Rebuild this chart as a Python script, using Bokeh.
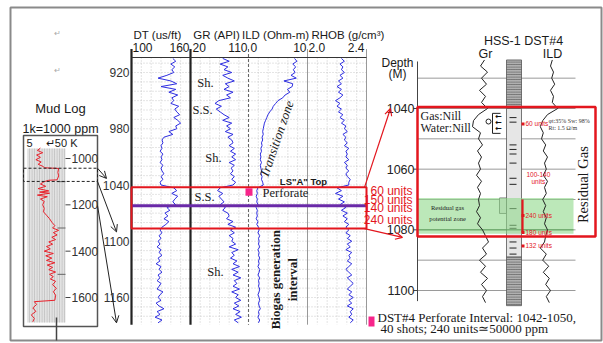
import math
from bokeh.plotting import figure
from bokeh.models import Range1d, Arrow, OpenHead
from bokeh.core.properties import value
from bokeh.embed import file_html
from bokeh.resources import INLINE

# ---------------- data ----------------
MAIN_TICKS = [920, 980, 1040, 1100, 1160]
main_depth = list(range(905, 1188, 3))  # sample depths (m)
DT = [142, 145, 140, 144, 141, 143, 136, 127, 140, 146, 130, 145, 138, 147, 141,
      143, 140, 148, 144, 146, 149, 143, 147, 150, 145, 146, 138, 142, 133, 131,
      132, 130, 131, 129, 132, 130, 131, 129, 132, 130, 131, 133, 130, 132, 129,
      130,
      143, 146, 141, 147, 144, 142, 145, 136, 139, 134, 137, 133, 138, 135, 131,
      129, 131, 128, 130, 127, 129, 126, 130, 128, 131, 127, 129, 125, 130, 128,
      131, 127, 129, 126, 130, 128, 126, 132, 129, 127, 130, 125, 128, 133, 126,
      129, 124, 131, 127]
GR = [70, 80, 66, 78, 72, 84, 70, 78, 88, 74, 80, 72, 86, 76, 82,
      64, 58, 68, 60, 66, 72, 80, 70, 84, 76, 82, 74, 86, 78, 84,
      86, 80, 88, 82, 90, 84, 90, 80, 88, 83, 86, 82, 88, 84, 90,
      86,
      66, 62, 70, 64, 68, 72, 66, 74, 70, 78, 80, 76, 86, 78, 90,
      82, 88, 80, 86, 84, 90, 80, 94, 84, 88, 82, 92, 86, 96, 84,
      94, 86, 98, 88, 92, 86, 96, 84, 94, 90, 98, 88, 95, 86, 97,
      90, 99, 88, 94]
ILD = [7.8, 8.2, 7.5, 8.0, 7.6, 7.9, 7.2, 8.1, 6.0, 7.5, 7.4, 6.6, 7.0, 6.2, 5.8,
       5.0, 4.6, 4.2, 4.0, 3.6, 3.3, 3.1, 2.9, 2.7, 2.6, 2.5, 2.4, 2.5, 2.3, 2.4,
       2.2, 2.3, 2.1, 2.2, 2.0, 2.1, 2.0, 2.2, 2.0, 2.1, 2.2, 2.1, 2.3, 2.2, 2.4,
       2.5,
       1.6, 1.4, 1.5, 1.3, 1.5, 1.4, 1.6, 1.3, 1.5, 1.4, 1.5, 1.3, 1.6, 1.4, 1.7,
       1.8, 1.6, 1.9, 1.7, 1.8, 1.7, 1.9, 1.6, 1.8, 1.7, 1.9, 1.7, 1.8, 1.6, 1.9,
       1.8, 1.6, 1.9, 1.7, 1.8, 1.7, 1.9, 1.8, 1.6, 1.8, 1.9, 1.7, 1.8, 2.0, 1.7,
       1.8, 1.6, 1.9, 1.7]
RHOB = [2.23, 2.25, 2.22, 2.24, 2.23, 2.25, 2.22, 2.24, 2.21, 2.23, 2.20, 2.23, 2.21, 2.24, 2.22,
        2.19, 2.22, 2.20, 2.23, 2.21, 2.24, 2.22, 2.25, 2.23, 2.26, 2.25, 2.27, 2.24, 2.26, 2.25,
        2.27, 2.25, 2.28, 2.26, 2.27, 2.26, 2.28, 2.25, 2.27, 2.26, 2.28, 2.26, 2.27, 2.29, 2.28,
        2.28,
        2.20, 2.23, 2.19, 2.24, 2.21, 2.25, 2.22, 2.26, 2.23, 2.27, 2.24, 2.27, 2.25, 2.28, 2.26,
        2.28, 2.26, 2.29, 2.27, 2.30, 2.27, 2.29, 2.26, 2.30, 2.28, 2.29, 2.27, 2.30, 2.28, 2.26,
        2.28, 2.30, 2.27, 2.29, 2.31, 2.29, 2.27, 2.30, 2.28, 2.31, 2.28, 2.30, 2.27, 2.31, 2.29,
        2.30, 2.28, 2.31, 2.29]

MUD_TICKS = [1000, 1200, 1400, 1600]
mud_depth = [955, 965, 975, 985, 995, 1005, 1015, 1025, 1035, 1040, 1043, 1060, 1075, 1092, 1094,
             1100, 1110, 1120, 1130, 1140, 1145, 1150, 1158, 1165, 1175, 1185, 1200, 1215, 1230, 1245,
             1260, 1275, 1290, 1300, 1310, 1320, 1330, 1340, 1350, 1360, 1370, 1380, 1390, 1400, 1410,
             1420, 1430, 1440, 1450, 1460, 1470, 1480, 1490, 1500, 1510, 1520, 1530, 1545, 1560, 1575,
             1590, 1612, 1618, 1630, 1645, 1660, 1675, 1690, 1705]
mud_gas = [17, 13, 20, 12, 17, 11, 18, 14, 21, 22, 41, 40, 41, 39, 28,
           22, 17, 24, 14, 28, 16, 29, 13, 26, 17, 22, 20, 22, 21, 25,
           29, 32, 36, 33, 41, 34, 39, 32, 37, 28, 33, 25, 30, 22, 34,
           24, 32, 25, 36, 26, 33, 28, 37, 29, 34, 30, 37, 33, 38, 34,
           37, 36, 9, 12, 7, 11, 5, 9, 7]

RIGHT_TICKS = [1040, 1060, 1080, 1100]
right_depth = list(range(1024, 1106, 2))
GR_R = [71, 65, 75.5, 66.5, 74, 63.5, 72.5, 66.5, 75.5, 62, 54.5, 53, 65, 62, 68,
        60.5, 66.5, 62, 65, 59, 66.5, 60.5, 65, 62, 63.5, 59, 65, 60.5, 68, 72.5,
        77, 68, 74, 63.5, 72.5, 65, 75.5, 66.5, 74, 68, 72.5]
ILD_R = [5.3, 5.0, 5.5, 5.2, 5.7, 5.0, 5.5, 5.3, 6.2, 4.5, 3.7, 3.3, 3.8, 3.5, 4.2,
         3.8, 4.5, 4.0, 4.3, 3.8, 4.5, 4.0, 4.3, 3.7, 4.2, 3.8, 4.3, 4.0, 4.5, 4.2,
         4.0, 3.3, 4.3, 3.7, 4.7, 3.8, 4.8, 4.2, 5.0, 4.3, 4.8]

UNIT_LABELS = ["60 units", "150 units", "140 units", "240 units"]
UNIT_DEPTHS = [1045.9, 1055.5, 1065.0, 1076.8]
PERF = (1042, 1050)
MAIN_BOX = (1042.5, 1086.5)
LS_A_TOP = 1062
RIGHT_BOX = (1039.5, 1082.2)
GREEN_ZONE = (1069.5, 1081.3)
LITHO = [(1024, 1040, "sh"), (1040, 1089, "ss"), (1089, 1105, "sh")]
LITHO_DASH = [1043, 1044.5, 1052, 1053.5, 1055, 1058, 1063, 1065, 1073, 1078.5, 1079.5, 1084, 1086, 1088]
RIGHT_NOTES = [("60 units", 1045.1), ("240 units", 1075.3), ("180 units", 1080.9), ("132 units", 1085.3)]

# ---------------- layout ----------------
W, H = 603, 343
SANS = "Liberation Sans"
SERIF = "Liberation Serif"
RED = "#e3161e"
BLUE = "#2d2de0"
PINK = "#f7258a"
TXT = "#1a1a1a"

p = figure(width=W, height=H, x_range=Range1d(0, W), y_range=Range1d(H, 0),
           output_backend="svg", toolbar_location=None, min_border=0,
           x_axis_location=None, y_axis_location=None)
p.xgrid.visible = False
p.ygrid.visible = False
p.outline_line_color = None
p.background_fill_color = "white"
p.border_fill_color = "white"


def sub(xs, xt, ys, yt):
    return p.subplot(x_source=Range1d(*xs), y_source=Range1d(*ys),
                     x_target=Range1d(*xt), y_target=Range1d(*yt))


def T(g, x, y, s, size, font=SANS, color=TXT, align="center", baseline="middle", angle=0.0, style="normal"):
    g.text(x=[x], y=[y], text=[s], angle=angle, text_font=value(font),
           text_font_size=f"{size}px", text_color=color, text_align=align,
           text_baseline=baseline, text_font_style=style)


# outer frame
p.quad(left=[10], right=[601], top=[7], bottom=[340], fill_color=None, line_color="#8a8a8a", line_width=2)
T(p, 57, 33, "\u21b5", 8, font="DejaVu Sans", color="#aaaaaa")
T(p, 57, 70, "\u21b5", 8, font="DejaVu Sans", color="#aaaaaa")

# ---------------- main log ----------------
MY_S, MY_T = (920, 1160), (72, 297)
D_TOP, D_BOT = 904, 1189
tracks = {"DT": (131, 190), "GR": (190, 248), "ILD": (248, 307), "RHOB": (307, 366)}
main = sub((0, W), (0, W), MY_S, MY_T)
dt_g = sub((100, 160), tracks["DT"], MY_S, MY_T)
gr_g = sub((20, 110), tracks["GR"], MY_S, MY_T)
ild_g = sub((0, 10), tracks["ILD"], MY_S, MY_T)
rhob_g = sub((2.0, 2.4), tracks["RHOB"], MY_S, MY_T)

# dotted grid
hd = list(range(910, 1190, 10))
main.segment(x0=[131] * len(hd), y0=hd, x1=[366] * len(hd), y1=hd,
             line_color="#bdbdbd", line_width=0.8, line_dash="1 2")
vx = []
for (a, b) in tracks.values():
    vx += [a + k * (b - a) / 6 for k in range(1, 6)]
main.segment(x0=vx, y0=[D_TOP] * len(vx), x1=vx, y1=[D_BOT] * len(vx),
             line_color="#bdbdbd", line_width=0.8, line_dash="1 2")

# track borders
main.segment(x0=[131, 190], y0=[895, 895], x1=[131, 190], y1=[D_BOT, D_BOT], line_color="#222", line_width=2.2)
main.segment(x0=[248], y0=[895], x1=[248], y1=[D_BOT], line_color="#666", line_width=1.1, line_dash="3 2")
main.segment(x0=[307, 366], y0=[895, 895], x1=[307, 366], y1=[D_BOT, D_BOT], line_color="#999", line_width=1)
main.segment(x0=[131], y0=[D_TOP], x1=[366], y1=[D_TOP], line_color="#333", line_width=1.2)

# curves
dt_g.line(x=DT, y=main_depth, line_color=BLUE, line_width=1)
gr_g.line(x=GR, y=main_depth, line_color=BLUE, line_width=1)
ild_g.line(x=ILD, y=main_depth, line_color=BLUE, line_width=1)
rhob_g.line(x=RHOB, y=main_depth, line_color=BLUE, line_width=1)

# headers
T(p, 157, 34, "DT (us/ft)", 11.5)
T(p, 216, 34, "GR (API)", 11.5)
T(p, 275, 34, "ILD (Ohm-m)", 11.5)
T(p, 311, 34, "RHOB (g/cm\u00b3)", 11.5, align="left")
for x, s, al in [(132, "100", "left"), (189, "160", "right"), (192, "20", "left"), (247, "110", "right"),
                 (250, "0", "left"), (306, "10", "right"), (308, "2.0", "left"), (364, "2.4", "right")]:
    T(p, x, 47, s, 12, align=al)

main.text(x=[129] * len(MAIN_TICKS), y=MAIN_TICKS, text=[str(t) for t in MAIN_TICKS],
          text_font=value(SANS), text_font_size="12px", text_color="#333", text_align="right",
          text_baseline="middle")

# lithology notes
for x, d, s in [(205, 931.7, "Sh."), (202, 959.5, "S.S."), (213, 1011.7, "Sh."), (204, 1052.3, "S.S."), (215, 1132.3, "Sh.")]:
    T(main, x, d, s, 12.5, font=SERIF)
T(main, 276, 991, "Transition zone", 13, font=SERIF, style="italic", angle=1.24)
T(main, 275, 1141, "Biogas generation", 13, font=SERIF, style="bold", angle=math.pi / 2)
T(main, 292, 1141, "interval", 13, font=SERIF, style="bold", angle=math.pi / 2)
T(main, 303, 1036.3, "LS\"A\" Top", 9.5, style="bold")
T(main, 285, 1048, "Perforate", 12.5, font=SERIF)

# red box, LS A top line, perforation mark
main.segment(x0=[131], y0=[LS_A_TOP], x1=[366], y1=[LS_A_TOP], line_color="#6a2aa8", line_width=3)
main.quad(left=[131], right=[366], top=[MAIN_BOX[0]], bottom=[MAIN_BOX[1]], fill_color=None,
          line_color=RED, line_width=2)
main.quad(left=[245], right=[252], top=[PERF[0] + 1.5], bottom=[PERF[1] + 1.5], fill_color=PINK, line_color=None)
main.text(x=[412] * 4, y=UNIT_DEPTHS, text=UNIT_LABELS, text_font=value(SANS), text_font_size="12px",
          text_color=RED, text_align="right", text_baseline="middle")

# ---------------- mud log ----------------
MUD_S, MUD_T = (1000, 1600), (158, 297)
mud = sub((0, W), (0, W), MUD_S, MUD_T)
mud_g = sub((0, 50), (27, 65), MUD_S, MUD_T)
T(p, 60, 108, "Mud Log", 13)
T(p, 60, 128, "1k=1000 ppm", 12.5)
p.quad(left=[23], right=[97], top=[135], bottom=[326], fill_color=None, line_color="#555", line_width=1.5)
mud.quad(left=[27], right=[65], top=[957], bottom=[1708], fill_color="#e2e2e2", line_color=None,
         hatch_pattern="vertical_line", hatch_color="#b4b4b4", hatch_scale=2.5, hatch_weight=0.7)
T(p, 26, 142, "5", 11, align="left")
T(p, 77, 142, "\u21b550 K", 11, align="right")
mud.segment(x0=[65] * 4, y0=MUD_TICKS, x1=[70] * 4, y1=MUD_TICKS, line_color="#444", line_width=1)
mud.segment(x0=[57] * 3, y0=[1100, 1300, 1500], x1=[65] * 3, y1=[1100, 1300, 1500], line_color="#666", line_width=1)
mud.text(x=[71] * 4, y=MUD_TICKS, text=[str(t) for t in MUD_TICKS], text_font=value(SANS),
         text_font_size="12px", text_color="#333", text_align="left", text_baseline="middle")
mud_g.line(x=mud_gas, y=mud_depth, line_color="#e8202a", line_width=1)
mud.quad(left=[23], right=[97], top=[1042], bottom=[1099], fill_color=None, line_color="#222",
         line_width=1, line_dash="3 2")
p.segment(x0=[56], y0=[317], x1=[56], y1=[340], line_color="#444", line_width=1.5)


def main_y(d):
    return MY_T[0] + (d - MY_S[0]) * (MY_T[1] - MY_T[0]) / (MY_S[1] - MY_S[0])


def mud_y(d):
    return MUD_T[0] + (d - MUD_S[0]) * (MUD_T[1] - MUD_T[0]) / (MUD_S[1] - MUD_S[0])


RY_S, RY_T = (1040, 1100), (108, 290)


def right_y(d):
    return RY_T[0] + (d - RY_S[0]) * (RY_T[1] - RY_T[0]) / (RY_S[1] - RY_S[0])


for (md, dd, xe) in [(1042, 1033, 106), (1099, 1090, 116), (1203, 1187, 116)]:
    p.add_layout(Arrow(end=OpenHead(size=7, line_color="#222", line_width=1), x_start=97, y_start=mud_y(md),
                       x_end=xe, y_end=main_y(dd), line_color="#222", line_width=1))

# red connectors
p.add_layout(Arrow(end=OpenHead(size=7, line_color=RED, line_width=1.2), x_start=364, y_start=main_y(MAIN_BOX[0]),
                   x_end=390, y_end=right_y(1040), line_color=RED, line_width=1.2))
p.add_layout(Arrow(end=OpenHead(size=7, line_color=RED, line_width=1.2), x_start=364, y_start=main_y(MAIN_BOX[1]),
                   x_end=402, y_end=right_y(1082.5), line_color=RED, line_width=1.2))

# ---------------- right panel ----------------
rp = sub((0, W), (0, W), RY_S, RY_T)
gr_r = sub((20, 110), (450, 510), RY_S, RY_T)
ild_r = sub((0, 10), (520, 580), RY_S, RY_T)

T(p, 523, 40, "HSS-1 DST#4", 12.5)
T(p, 485, 53, "Gr", 12.5)
T(p, 552, 53, "ILD", 12.5)
T(p, 397, 62, "Depth", 12)
T(p, 397, 73, "(M)", 12)

gl = list(range(1030, 1101, 10))
rp.segment(x0=[417] * len(gl), y0=gl, x1=[575] * len(gl), y1=gl, line_color="#9a9a9a", line_width=1)
rp.segment(x0=[417], y0=[1024.5], x1=[417], y1=[1103.5], line_color="#444", line_width=1)
rp.segment(x0=[413] * 4, y0=RIGHT_TICKS, x1=[417] * 4, y1=RIGHT_TICKS, line_color="#444", line_width=1)
rp.text(x=[414] * 4, y=RIGHT_TICKS, text=[str(t) for t in RIGHT_TICKS], text_font=value(SANS),
        text_font_size="12.5px", text_color="#222", text_align="right", text_baseline="middle")

# lithology column
for (a, b, kind) in LITHO:
    if kind == "sh":
        rp.quad(left=[506], right=[521], top=[a], bottom=[b], fill_color="#b0b0b0", line_color="#555",
                line_width=0.8, hatch_pattern="horizontal_line", hatch_color="#555555", hatch_scale=2.5,
                hatch_weight=0.7)
    else:
        rp.quad(left=[506], right=[521], top=[a], bottom=[b], fill_color="#e6e6e6", line_color="#555",
                line_width=0.8)
rp.quad(left=[499], right=[506], top=[GREEN_ZONE[0]], bottom=[1074.6], fill_color="#e6e6e6",
        line_color="#555", line_width=0.8)
rp.segment(x0=[509] * len(LITHO_DASH), y0=LITHO_DASH, x1=[516] * len(LITHO_DASH), y1=LITHO_DASH,
           line_color="#222", line_width=1)

# residual gas zone
rp.quad(left=[417], right=[573], top=[GREEN_ZONE[0]], bottom=[GREEN_ZONE[1]], fill_color="#8fd88a",
        fill_alpha=0.6, line_color=None)
rp.segment(x0=[417], y0=[1080], x1=[573], y1=[1080], line_color="#5f9f5f", line_width=1)
T(rp, 447, 1072.8, "Residual gas", 6.5, font=SERIF)
T(rp, 447, 1076.1, "potential zone", 6.5, font=SERIF)

gr_r.line(x=GR_R, y=right_depth, line_color="#222", line_width=1)
ild_r.line(x=ILD_R, y=right_depth, line_color="#222", line_width=1)

# DST symbol
rp.segment(x0=[492, 492, 492], y0=[1041.6, 1041.6, 1048.2], x1=[492, 500, 500], y1=[1048.2, 1041.6, 1048.2],
           line_color="#222", line_width=1)
rp.scatter(x=[488], y=[1044.3], marker="circle", size=5, fill_color=None, line_color="#222")
rp.text(x=[498] * 3, y=[1042.6, 1044.6, 1046.6], text=["\u2190"] * 3, text_font=value("DejaVu Sans"),
        text_font_size="8px", text_color="#111", text_align="center", text_baseline="middle", text_font_style="bold")
T(rp, 420, 1042.6, "Gas:Nill", 12, font=SERIF, align="left")
T(rp, 420, 1046.3, "Water:Nill", 12, font=SERIF, align="left")

# red notes
rp.segment(x0=[522], y0=[1070], x1=[522], y1=[1081], line_color=RED, line_width=2.2)
rp.scatter(x=[522.5] * len(RIGHT_NOTES), y=[d for _, d in RIGHT_NOTES], marker="square", size=3,
           fill_color=RED, line_color=None)
rp.text(x=[525] * len(RIGHT_NOTES), y=[d for _, d in RIGHT_NOTES], text=[s for s, _ in RIGHT_NOTES],
        text_font=value(SANS), text_font_size="6.5px", text_color=RED, text_align="left", text_baseline="middle")
T(rp, 526, 1061.9, "100-140", 6.5, color=RED, align="left")
T(rp, 531, 1064.1, "units", 6.5, color=RED, align="left")
T(rp, 548, 1044.1, "\u03c6t:35%  Sw: 98%", 6, font=SERIF, color="#333", align="left")
T(rp, 548, 1046.3, "Rt: 1.5 \u03a9/m", 6, font=SERIF, color="#333", align="left")
T(rp, 582, 1065.1, "Residual Gas", 14.5, font=SERIF, angle=math.pi / 2)
rp.quad(left=[417], right=[595], top=[RIGHT_BOX[0]], bottom=[RIGHT_BOX[1]], fill_color=None,
        line_color=RED, line_width=2.5)

# legend
p.quad(left=[368], right=[374], top=[316], bottom=[326], fill_color=PINK, line_color=None)
T(p, 377, 317, "DST#4 Perforate Interval: 1042-1050,", 13, font=SERIF, align="left")
T(p, 380, 328, "40 shots; 240 units\u224350000 ppm", 13, font=SERIF, align="left")

open("out.html", "w").write(file_html(p, INLINE))
